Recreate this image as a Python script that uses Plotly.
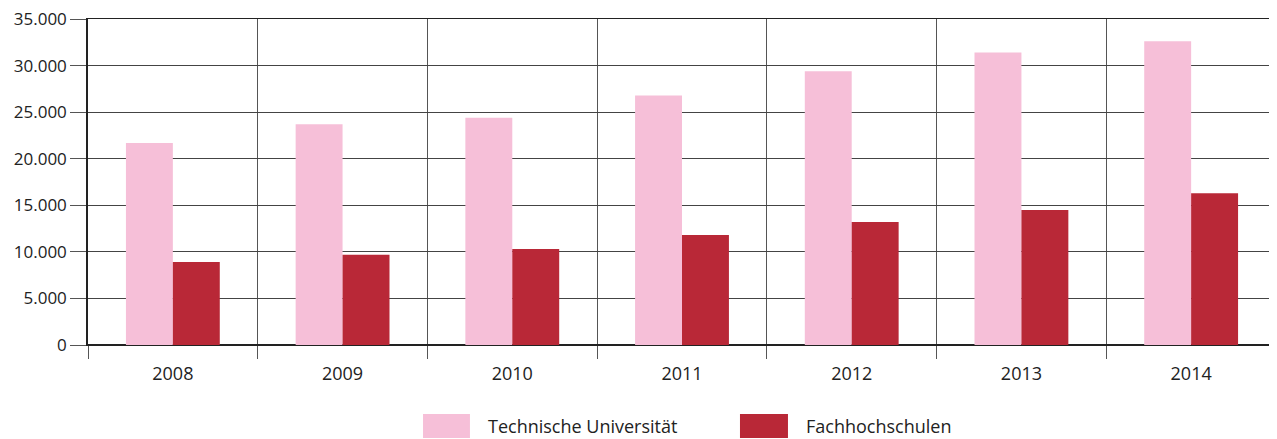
import plotly.graph_objects as go

years = ["2008", "2009", "2010", "2011", "2012", "2013", "2014"]
tu_values = [21700, 23700, 24400, 26800, 29400, 31400, 32600]
fh_values = [8900, 9700, 10300, 11800, 13200, 14500, 16300]
series_names = ["Technische Universität", "Fachhochschulen"]
y_ticks = [0, 5000, 10000, 15000, 20000, 25000, 30000, 35000]

colors = ["#F6BFD8", "#B92837"]
font_family = "Open Sans, Noto Sans, sans-serif"
text_color = "#222222"

fig = go.Figure()
fig.add_trace(go.Bar(x=years, y=tu_values, name=series_names[0],
                     marker=dict(color=colors[0], line=dict(width=0)), showlegend=False))
fig.add_trace(go.Bar(x=years, y=fh_values, name=series_names[1],
                     marker=dict(color=colors[1], line=dict(width=0)), showlegend=False))

fig.update_layout(
    width=1269, height=431,
    margin=dict(l=80, r=1, t=11, b=94, autoexpand=False),
    paper_bgcolor="white", plot_bgcolor="white",
    barmode="group", bargap=0.447, bargroupgap=0,
    separators=",.",
    font=dict(family=font_family, size=18, color=text_color),
    xaxis=dict(
        type="category", tickson="boundaries", automargin=False,
        showgrid=True, gridcolor="#555555", gridwidth=1,
        ticks="outside", ticklen=13, tickcolor="#555555", tickwidth=1,
        showline=True, linecolor="#222222", linewidth=1, mirror=True,
        tickfont=dict(size=18, color=text_color),
        ticklabelstandoff=12,
    ),
    yaxis=dict(
        range=[0, 35000], tickvals=y_ticks, tickformat=",d", automargin=False,
        showgrid=True, gridcolor="#444444", gridwidth=1,
        zeroline=True, zerolinecolor="#222222", zerolinewidth=1.5,
        ticks="outside", ticklen=16, tickcolor="#555555", tickwidth=1,
        showline=True, linecolor="#222222", linewidth=1.5, mirror=True,
        tickfont=dict(size=17, color=text_color),
        ticklabeloverflow="allow",
    ),
)

# Manual legend (large swatches as in the reference)
legend_items = [
    (series_names[0], colors[0], 0.282, 0.3215, 0.335),
    (series_names[1], colors[1], 0.5488, 0.5892, 0.6027),
]
for name, col, x0, x1, xt in legend_items:
    fig.add_shape(type="rect", xref="paper", yref="paper",
                  x0=x0, x1=x1, y0=-0.285, y1=-0.2117,
                  fillcolor=col, line=dict(width=0))
    fig.add_annotation(xref="paper", yref="paper", x=xt, y=-0.248,
                       text=name, showarrow=False, xanchor="left", yanchor="middle",
                       font=dict(family=font_family, size=18, color=text_color))

fig.write_html("out.html")
